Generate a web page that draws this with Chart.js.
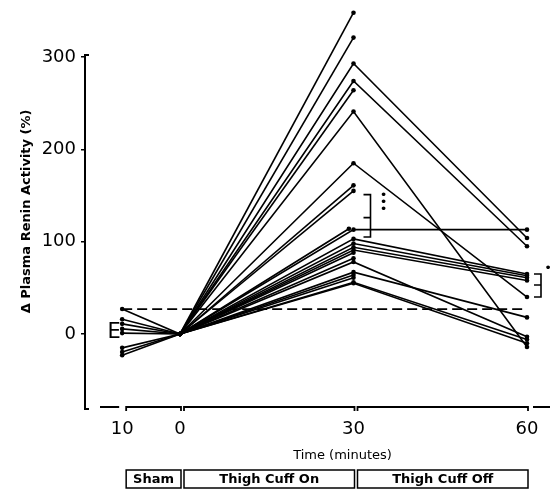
<!DOCTYPE html>
<html><head><meta charset="utf-8">
<script src="https://cdn.jsdelivr.net/npm/chart.js@4/dist/chart.umd.min.js"></script>
<style>html,body{margin:0;padding:0;background:#fff}#wrap{width:550px;height:496px}</style>
</head><body><div id="wrap"><canvas id="c" width="550" height="496"></canvas></div>
<script>
// ---- data ----
const timeTicks = [-10, 0, 30, 60];
const tickLabels = ['10', '0', '30', '60'];
const phaseLabels = ['Sham', 'Thigh Cuff On', 'Thigh Cuff Off'];
const xTitle = 'Time (minutes)';
const yTitle = 'Δ Plasma Renin Activity (%)';
const yTicks = [0, 100, 200, 300];
const yAxisTop = 302.2;
// one entry per subject
const shamValues    = [null, null, null, null, null, null, null, null, null, 27, null, 16, 11, 5.5, 1, -15, -19.5, -23, null, null, null, null, null];
const baselineValues= [0, 0, 0, 0, 0, 0, 0, 0, 0, 0, 0, 0, 0, 0, 0, 0, 0, 0, 0, 0, 0, 0, 0];
const cuffOnTimes   = [30, 30, 30, 30, 30, 30, 30, 30, 30, 29.2, 30, 30, 30, 30, 30, 30, 30, 30, 30, 30, 30, 30, 30];
const cuffOnValues  = [348, 321, 293, 274, 264, 241, 185, 161, 155, 114, 113, 103, 98, 94, 91, 88, 82, 78, 67, 64, 61, 56, 55];
const cuffOffValues = [null, null, 104, 95, null, -14, 40, null, null, null, 113, 65, 63, 61, 58, null, null, -3, 18, null, null, -6, -10];
const referenceLevel = 27;
const brackets = [
  { time: 30, low: 105, mid: 126, high: 151, stars: 3 },
  { time: 60, low: 40, mid: 53, high: 65, stars: 1 }
];
const shamMarker = { time: -10, value: 2, text: 'E' };

// ---- layout constants (pixels) ----
const W = 550, H = 496;
const AXIS_LEFT = 85, X_SCALE_H = 57, PAD_BOTTOM = 32;
const X_ZERO_PX = 180, X_PX_PER_MIN = 347 / 60;
const Y_ZERO_PX = 334, Y_PX_PER_UNIT = 0.9233;

// ---- datasets ----
const datasets = [];
for (let i = 0; i < cuffOnValues.length; i++) {
  const pts = [];
  if (shamValues[i] !== null) pts.push({ x: timeTicks[0], y: shamValues[i] });
  pts.push({ x: timeTicks[1], y: baselineValues[i] });
  pts.push({ x: cuffOnTimes[i], y: cuffOnValues[i] });
  if (cuffOffValues[i] !== null) pts.push({ x: timeTicks[3], y: cuffOffValues[i] });
  datasets.push({
    data: pts, borderColor: '#000', borderWidth: 1.6, pointRadius: 2.3,
    pointBackgroundColor: '#000', pointBorderWidth: 0, clip: false, tension: 0
  });
}
datasets.push({
  data: [{ x: timeTicks[0], y: referenceLevel }, { x: timeTicks[3], y: referenceLevel }],
  borderColor: '#000', borderWidth: 1.8, borderDash: [10, 5], pointRadius: 0, clip: false
});

const FONT = 'DejaVu Sans';

// calibrate value ranges against the final chart area
const calibrate = {
  id: 'calibrate',
  afterLayout(chart) {
    const ca = chart.chartArea;
    const xs = chart.scales.x, ys = chart.scales.y;
    xs.min = -(X_ZERO_PX - ca.left) / X_PX_PER_MIN;
    xs.max = xs.min + (ca.right - ca.left) / X_PX_PER_MIN;
    xs.configure();
    ys.min = -(ca.bottom - Y_ZERO_PX) / Y_PX_PER_UNIT;
    ys.max = ys.min + (ca.bottom - ca.top) / Y_PX_PER_UNIT;
    ys.configure();
  }
};

const decor = {
  id: 'decor',
  afterDraw(chart) {
    const { ctx, chartArea } = chart;
    const xs = chart.scales.x, ys = chart.scales.y;
    const yb = chartArea.bottom;
    const xl = chartArea.left;
    ctx.save();
    ctx.strokeStyle = '#000';
    ctx.fillStyle = '#000';
    // y axis line
    const yTop = ys.getPixelForValue(yAxisTop);
    const yBot = ys.getPixelForValue(ys.min);
    ctx.lineWidth = 2;
    ctx.beginPath();
    ctx.moveTo(xl + 4, yTop); ctx.lineTo(xl, yTop); ctx.lineTo(xl, yBot + 2); ctx.lineTo(xl + 4, yBot + 2);
    ctx.stroke();
    // broken x axis
    ctx.lineWidth = 1.8;
    const segs = [];
    for (let i = 0; i < timeTicks.length - 1; i++) {
      segs.push([xs.getPixelForValue(timeTicks[i]) + 4, xs.getPixelForValue(timeTicks[i + 1]) + 1]);
    }
    ctx.beginPath();
    ctx.moveTo(xl + 15, yb);
    ctx.lineTo(segs[0][0] - 7, yb);
    segs.forEach(([l, r]) => {
      ctx.moveTo(l, yb + 4); ctx.lineTo(l, yb); ctx.lineTo(r, yb); ctx.lineTo(r, yb + 4);
    });
    ctx.moveTo(segs[segs.length - 1][1] + 5, yb);
    ctx.lineTo(W, yb);
    ctx.stroke();
    // x title
    ctx.font = '13px "' + FONT + '"';
    ctx.textAlign = 'center'; ctx.textBaseline = 'middle';
    ctx.fillText(xTitle, (AXIS_LEFT + W) / 2 + 25, yb + 49);
    // phase boxes
    ctx.lineWidth = 1.5;
    ctx.font = 'bold 13px "' + FONT + '"';
    segs.forEach(([l, r], i) => {
      ctx.strokeRect(l, yb + 63, r - l, 18);
      ctx.fillText(phaseLabels[i], (l + r) / 2, yb + 72.5);
    });
    // brackets
    ctx.lineWidth = 1.6;
    brackets.forEach(b => {
      const bx = xs.getPixelForValue(b.time) + (b.stars > 1 ? 17 : 14);
      const y1 = ys.getPixelForValue(b.high), y2 = ys.getPixelForValue(b.low), ym = ys.getPixelForValue(b.mid);
      ctx.beginPath();
      ctx.moveTo(bx - 7, y1); ctx.lineTo(bx, y1); ctx.lineTo(bx, y2); ctx.lineTo(bx - 7, y2);
      ctx.moveTo(bx - 7, ym); ctx.lineTo(bx, ym);
      ctx.stroke();
      ctx.font = '13px "' + FONT + '"';
      if (b.stars > 1) {
        for (let k = 0; k < b.stars; k++) ctx.fillText('\u2022', bx + 13, y1 + 1 + k * 7);
      } else {
        ctx.fillText('\u2022', bx + 7, y1 - 5);
      }
    });
    // E marker
    ctx.font = '21px "' + FONT + '"';
    ctx.fillText(shamMarker.text, xs.getPixelForValue(shamMarker.time) - 8, ys.getPixelForValue(shamMarker.value));
    ctx.restore();
  }
};

new Chart(document.getElementById('c'), {
  type: 'line',
  data: { datasets },
  options: {
    responsive: false, animation: false,
    layout: { padding: { top: 0, right: 0, bottom: PAD_BOTTOM, left: 0 } },
    plugins: { legend: { display: false }, tooltip: { enabled: false } },
    scales: {
      x: {
        type: 'linear', min: -16.43, max: 63.98,
        afterBuildTicks: s => { s.ticks = timeTicks.map(v => ({ value: v })); },
        ticks: { callback: (v) => tickLabels[timeTicks.indexOf(v)], font: { family: FONT, size: 18 }, color: '#000', padding: 4, maxRotation: 0, autoSkip: false },
        grid: { display: false }, border: { display: false },
        title: { display: false },
        afterFit: s => { s.height = X_SCALE_H; }
      },
      y: {
        type: 'linear', min: -79.1, max: 361.7,
        afterBuildTicks: s => { s.ticks = yTicks.map(v => ({ value: v })); },
        ticks: { font: { family: FONT, size: 18 }, color: '#000', padding: 5 },
        grid: { drawOnChartArea: false, drawTicks: true, tickLength: 4, color: '#000', lineWidth: 1.5 },
        border: { display: false },
        title: { display: true, text: yTitle, font: { family: FONT, size: 13, weight: 'bold' }, color: '#000', padding: { top: 19, bottom: 0 } },
        afterFit: s => { s.width = AXIS_LEFT; }
      }
    }
  },
  plugins: [calibrate, decor]
});
</script></body></html>
